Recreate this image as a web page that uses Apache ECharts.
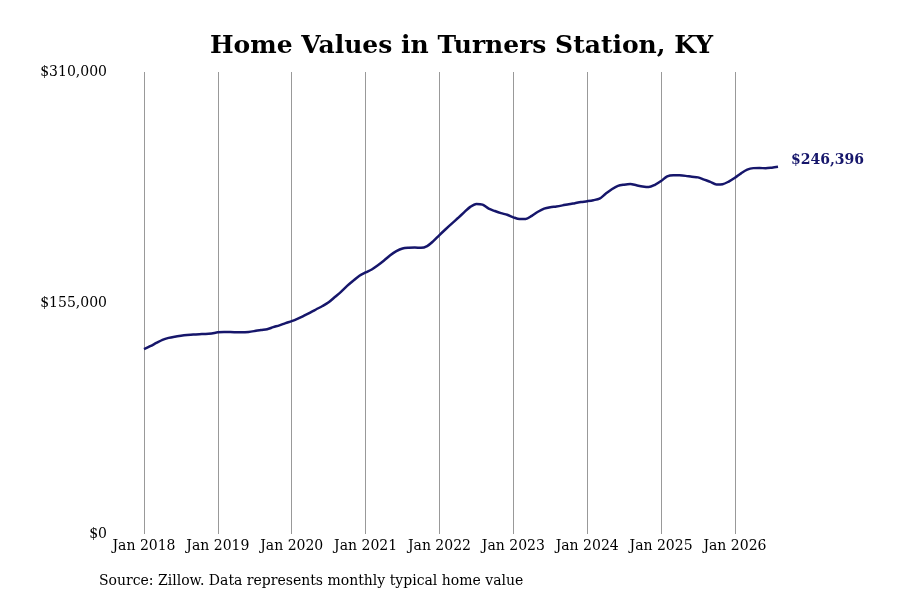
<!DOCTYPE html>
<html>
<head>
<meta charset="utf-8">
<title>Home Values in Turners Station, KY</title>
<script src="https://cdn.jsdelivr.net/npm/echarts@6/dist/echarts.min.js"></script>
<style>
  html, body { margin: 0; padding: 0; background: #fff; }
  #chart { width: 900px; height: 600px; }
</style>
</head>
<body>
<div id="chart"></div>
<script>
// Monthly typical home value, Jan 2018 .. Aug 2026
const startYear = 2018;
const values2018 = [124100, 126000, 128200, 130300, 131600, 132400, 133000, 133500, 133900, 134100, 134200, 134600];
const values2019 = [135300, 135500, 135500, 135400, 135300, 135600, 136200, 136900, 137400, 138800, 140000, 141500];
const values2020 = [142800, 144500, 146500, 148600, 150800, 153000, 155500, 159000, 162500, 166500, 170000, 173300];
const values2021 = [175500, 177500, 180300, 183500, 187000, 189800, 191600, 192100, 192200, 192000, 193200, 196500];
const values2022 = [200600, 204500, 208300, 212000, 215800, 219500, 221500, 221000, 218300, 216700, 215300, 214200];
const values2023 = [212500, 211300, 211400, 213500, 216200, 218300, 219300, 219800, 220500, 221300, 222000, 222700];
const values2024 = [223300, 224000, 225000, 228300, 231300, 233600, 234400, 234800, 234000, 233200, 232800, 234300];
const values2025 = [236800, 240000, 240800, 240700, 240300, 239700, 239300, 237800, 236300, 234500, 234700, 236500];
const values2026 = [239000, 242000, 244500, 245500, 245600, 245400, 245800, 246396];

const yTicks = [0, 155000, 310000];
const monthNames = ['Jan', 'Feb', 'Mar', 'Apr', 'May', 'Jun', 'Jul', 'Aug', 'Sep', 'Oct', 'Nov', 'Dec'];

const values = [].concat(values2018, values2019, values2020, values2021, values2022,
  values2023, values2024, values2025, values2026);
const months = values.map((v, i) => monthNames[i % 12] + ' ' + (startYear + Math.floor(i / 12)));

const fmt = v => '$' + Math.round(v).toLocaleString('en-US');
const serif = '"DejaVu Serif", serif';
const navy = '#16166b';

const chart = echarts.init(document.getElementById('chart'), null, { renderer: 'canvas' });
chart.setOption({
  animation: false,
  backgroundColor: '#fff',
  title: {
    text: 'Home Values in Turners Station, KY',
    left: 205,
    top: 29,
    textStyle: { fontFamily: serif, fontWeight: 'bold', fontSize: 25, color: '#000' }
  },
  graphic: [{
    type: 'text',
    left: 99,
    top: 574,
    style: {
      text: 'Source: Zillow. Data represents monthly typical home value',
      font: '14px "DejaVu Serif", serif',
      fill: '#000'
    }
  }],
  grid: { left: 144, right: 122, top: 72, bottom: 66, containLabel: false },
  xAxis: {
    type: 'category',
    data: months,
    boundaryGap: false,
    axisLine: { show: false },
    axisTick: { show: false },
    axisLabel: {
      interval: i => i % 12 === 0,
      margin: 5,
      fontFamily: serif,
      fontSize: 14,
      color: '#000'
    },
    splitLine: {
      show: true,
      interval: i => i % 12 === 0,
      lineStyle: { color: '#999', width: 1 }
    }
  },
  yAxis: {
    type: 'value',
    min: yTicks[0],
    max: yTicks[yTicks.length - 1],
    interval: yTicks[1] - yTicks[0],
    axisLine: { show: false },
    axisTick: { show: false },
    splitLine: { show: false },
    axisLabel: {
      margin: 37,
      formatter: v => fmt(v),
      fontFamily: serif,
      fontSize: 14,
      color: '#000'
    }
  },
  series: [{
    type: 'line',
    data: values,
    smooth: 0.3,
    symbol: 'none',
    lineStyle: { color: navy, width: 2.5 },
    itemStyle: { color: navy },
    endLabel: {
      show: true,
      distance: 13,
      offset: [0, -6],
      formatter: p => fmt(p.value),
      fontFamily: serif,
      fontWeight: 'bold',
      fontSize: 14,
      color: navy
    }
  }]
});
</script>
</body>
</html>
